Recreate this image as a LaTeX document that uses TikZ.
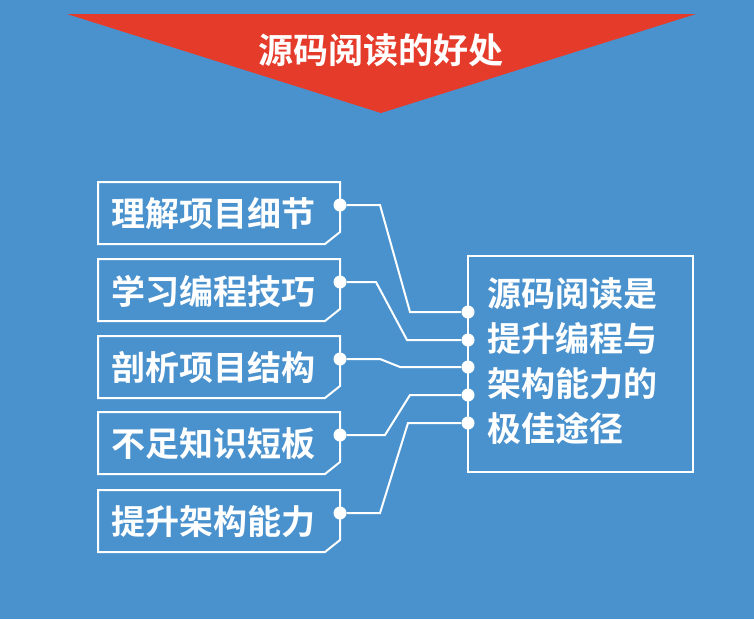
\documentclass[tikz,border=0pt]{standalone}
\usepackage{fontspec}
\setmainfont{Noto Sans CJK SC}[BoldFont={Noto Sans CJK SC Bold}]
\definecolor{bg}{HTML}{4A92CE}
\definecolor{rd}{HTML}{E53B2B}
\begin{document}
\begin{tikzpicture}[x=1pt,y=-1pt,
  ln/.style={white,line width=2pt},
  dot/.style={circle,fill=white,inner sep=0pt,minimum size=13pt},
  lbl/.style={anchor=west,text=white,font=\bfseries\fontsize{34}{34}\selectfont}]
\fill[bg] (0,0) rectangle (754,619);
\useasboundingbox (0,0) rectangle (754,619);
\fill[rd] (67,14) -- (696,14) -- (381,113) -- cycle;
\node[text=white,font=\bfseries\fontsize{35}{35}\selectfont] (title) at (381,50) {源码阅读的好处};
\foreach \i/\y/\t in {1/182/理解项目细节,2/259/学习编程技巧,3/336/剖析项目结构,4/412/不足知识短板,5/490/提升架构能力}{
  \draw[ln] (98,\y) -- (340,\y) -- (340,\y+50) -- (325,\y+62) -- (98,\y+62) -- cycle;
  \node[lbl] (t\i) at (108,\y+32) {\t};
  \node[dot] (a\i) at (340,\y+23) {};
}
\draw[ln] (468,256) rectangle (693,472);
\node[anchor=north west,text=white,align=left,font=\bfseries\fontsize{34}{45}\selectfont] (main) at (484,274) {源码阅读是\\提升编程与\\架构能力的\\极佳途径};
\foreach \i/\y in {1/312,2/340,3/367,4/395,5/423}{\node[dot] (b\i) at (468,\y) {};}
\draw[ln] (a1) -- ++(40,0) -- (410,312) -- (b1);
\draw[ln] (a2) -- ++(36,0) -- (407,340) -- (b2);
\draw[ln] (a3) -- ++(40,0) -- (400,367) -- (b3);
\draw[ln] (a4) -- ++(45,0) -- (410,395) -- (b4);
\draw[ln] (a5) -- ++(40,0) -- (408,423) -- (b5);
\end{tikzpicture}
\end{document}
